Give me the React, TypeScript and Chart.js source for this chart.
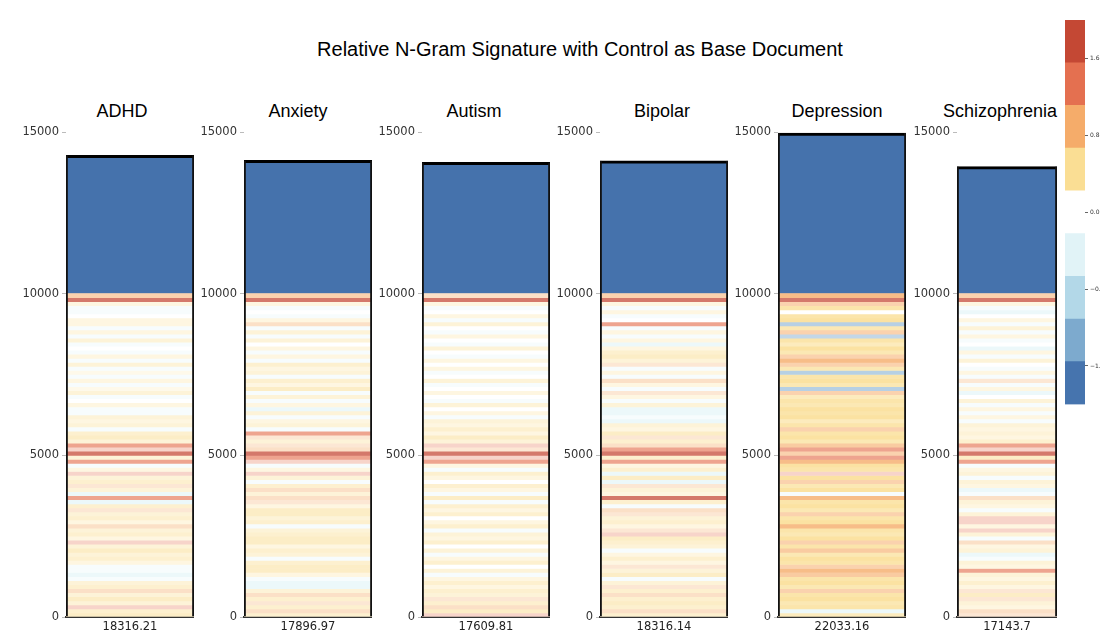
import React, { useEffect, useRef } from 'react';
import { Chart, registerables } from 'chart.js';

Chart.register(...registerables);

// Groups compared against the control corpus
const groups = ['ADHD', 'Anxiety', 'Autism', 'Bipolar', 'Depression', 'Schizophrenia'];
// Distance scores printed under each column
const scores = ['18316.21', '17896.97', '17609.81', '18316.14', '22033.16', '17143.7'];
// Top of the shared (blue) block per group
const sharedTops = [14280, 14120, 14060, 14110, 14970, 13930];
const sharedStart = 10000;
const bandSpan = 125;
const yTicks = [0, 5000, 10000, 15000];

// Relative signature per n-gram band, listed from the top (10000) down to 0
const adhdSig = [
  0.9, 1.9, 0.3, -0.3, -0.3, 0, 0.3, 0.3, -0.3, 0.3,
  -0.3, 0.35, -0.3, 0, -0.3, 0.3, -0.3, 0.35, -0.3, 0.25,
  -0.3, 0.3, -0.3, 0.25, 0.35, -0.3, 0, 0.3, -0.3, -0.3,
  0.35, 0.3, 0.35, -0.3, 0.4, 0.45, 0.35, 1.4, 1.2, 1.9,
  0.35, 1.4, -0.3, 0.3, 1.2, 0.35, 0.4, 0.75, 0.35, -0.5,
  1.4, -0.5, 0.4, 0.75, 0.35, 0.4, 0.3, 0.8, 0.35, 0.4,
  0.3, 1.2, 0.35, 0.45, 0.35, 0.4, 0.3, -0.3, -0.3, -0.5,
  -0.3, 0.35, 0.4, 0.8, 0.35, 0.45, 0.35, 1.2, 0.4, 0.45,
];
const anxietySig = [
  0.9, 1.9, 0.3, -0.3, 0, -0.3, 0.3, 0.8, -0.3, 0.35,
  -0.3, 0.35, 0, 0.3, -0.3, 0.3, -0.3, 0.4, 0.3, 0.35,
  -0.3, 0.4, 0.3, 0.45, -0.3, 0.35, -0.3, 0.3, -0.5, 0.35,
  -0.3, 0.3, 0.35, -0.3, 1.4, 0.75, 0.35, 0.75, 0.8, 1.9,
  1.4, 1.2, -0.3, 0.3, 1.2, 0.35, -0.3, 0.4, 0.8, 0.35,
  0.8, 0.75, 0.3, 0.45, 0.45, 0.35, 0.4, -0.3, 0.35, 0.4,
  0.45, 0.45, 0.3, 0.4, 0.35, -0.3, 0.4, 0.45, 0.45, 0.3,
  -0.3, -0.5, -0.5, 0.35, 0.8, 0.4, 0.75, 0.4, 0.8, 0.4,
];
const autismSig = [
  0.8, 1.9, 0.3, -0.3, 0, 0.3, -0.3, 0.35, 0, -0.3,
  0.3, 0, -0.3, 0.35, 0, -0.3, 0.3, 0, 0.3, -0.3,
  0, 0.35, -0.3, 0, 0.3, 0, -0.3, 0.35, 0, 0.3,
  -0.3, 0.35, 0.3, 0.4, 0.3, 0.45, 0.35, 1.2, 0.75, 1.9,
  1.2, 1.4, 0.3, -0.3, 0.4, 0.3, 0, 0.4, 0.3, -0.3,
  0.45, -0.3, 0.4, 0.3, 0.4, 0, 0.3, 0.4, -0.3, 0.35,
  0.3, 0.4, 0, 0.35, -0.3, 0.3, 0.4, 0, 0.35, -0.3,
  0.3, 0.4, 0.3, 0.4, 0.35, 0.75, 0.4, 0.8, 0.45, 1.2,
];
const bipolarSig = [
  0.9, 1.9, 0.3, -0.3, 0.3, -0.3, 0, 1.4, -0.3, 0.3,
  -0.3, 0.3, -0.5, 0.3, 0.4, 0.45, 0.35, 0.75, -0.3, 0.3,
  -0.3, 0.8, 0.3, -0.3, 0.75, 0.3, -0.3, 0.35, -0.5, -0.5,
  -0.3, -0.5, 0.35, 0.3, 0.45, 0.75, 0.4, 0.8, 1.4, 1.9,
  0.4, 1.4, 0.3, 0.4, -0.5, 0.45, -0.5, 0.75, 0.35, 0.3,
  1.9, 0.4, -0.3, 0.8, 0.75, 0.35, 0.4, 0.3, 0.75, 1.2,
  0.45, 0.4, 0.35, -0.3, 0.3, 0.4, 0.3, 0.75, 0.35, 0.45,
  -0.3, 0.35, 0.75, 0.4, 0.8, 0.4, 0.45, 0.4, 0.8, 0.4,
];
const depressionSig = [
  1.05, 1.9, 0.9, 0.6, 0.2, 0.6, 0.65, -1.35, 0.55, 0.9,
  -1.3, 0.6, 0.5, 0.65, 0.55, 0.9, 1.05, 0.9, 0.55, -1.35,
  0.6, 0.65, 0.55, -1.35, 0.9, 0.5, 0.6, 0.55, 0.65, 0.6,
  0.65, 0.5, 0.6, 0.9, 0.6, 0.65, 0.55, 0.95, 1.4, 0.9,
  1.4, 1.05, 0.65, 0.6, 1.2, 0.65, 0.9, 0.55, 0.65, -0.3,
  1.05, 0.6, 0.65, 0.55, 0.9, 0.6, 0.65, 1.05, 0.6, 0.55,
  0.65, 0.9, 0.6, 0.95, 0.55, 0.65, 0.6, 0.9, 1.05, 0.95,
  0.6, 0.65, 0.55, 0.9, 0.6, 0.65, 0.55, 0.6, -0.5, 0.5,
];
const schizophreniaSig = [
  0.9, 1.9, 0.3, -0.3, -0.5, 0, 0.3, -0.3, 0.35, -0.3,
  0.3, -0.3, 0, -0.5, 0.3, -0.3, 0.35, 0, -0.3, 0.3,
  -0.3, 0.75, -0.3, 0.3, -0.5, 0, 0.35, -0.3, 0.3, -0.3,
  0.3, -0.3, 0.35, 0.3, 0.35, 0.3, 0.4, 1.4, 1.2, 1.9,
  0.45, 1.4, -0.3, 0.3, 0.35, -0.3, 0.35, 0.3, -0.5, -0.3,
  0.8, 0.35, 0.3, -0.3, 0.35, 1.2, 1.2, 0.3, 1.2, 0.35,
  -0.3, 0.8, 0.3, 0.35, -0.5, -0.3, 0.35, 0.3, 1.4, 0.35,
  0.3, 0.4, 0.3, 0.75, 0.45, 0.75, 0.35, 0.3, 0.8, 0.75,
];
const signatures = [adhdSig, anxietySig, autismSig, bipolarSig, depressionSig, schizophreniaSig];

// Discrete diverging scale from -2 to 2 (9 bins), low to high
const scaleMin = -2;
const scaleMax = 2;
const binColors = ['#4674ae', '#7daace', '#b3d8e8', '#e1f3f7', '#ffffff', '#fade94', '#f5ac6a', '#e47050', '#c44834'];
const scaleTicks = [-1.6, -0.8, 0, 0.8, 1.6];
const sharedColor = '#4572ac';

// Column placement on the page
const colLeft = [66, 244, 422, 600, 778, 957];
const colRight = [194, 372, 550, 728, 906, 1057];
const titleCenter = [122, 298, 474, 662, 837, 1000];
const AXIS_W = 62;
const PANEL_TOP = 122;
const PANEL_H = 513;

function hexToRgb(h: string) {
  const n = parseInt(h.slice(1), 16);
  return [(n >> 16) & 255, (n >> 8) & 255, n & 255];
}

// Bin colour, shaded by how far the value sits inside its bin
function bandColor(v: number) {
  const step = (scaleMax - scaleMin) / binColors.length;
  let idx = Math.floor((v - scaleMin) / step);
  idx = Math.max(0, Math.min(binColors.length - 1, idx));
  const center = (binColors.length - 1) / 2;
  let frac = 0;
  if (idx > center) frac = (v - (scaleMin + idx * step)) / step;
  else if (idx < center) frac = ((scaleMin + (idx + 1) * step) - v) / step;
  frac = Math.max(0, Math.min(1, frac));
  const a = 0.15 + 0.75 * frac;
  const [r, g, b] = hexToRgb(binColors[idx]);
  const mix = (c: number) => Math.round(c * a + 255 * (1 - a));
  return `rgb(${mix(r)},${mix(g)},${mix(b)})`;
}

const tickFont = { family: '"DejaVu Sans", sans-serif', size: 11.5 };

function Panel({ index }: { index: number }) {
  const ref = useRef<HTMLCanvasElement | null>(null);
  const width = colRight[index] - colLeft[index] + AXIS_W;

  useEffect(() => {
    if (!ref.current) return;
    const sig = signatures[index];
    const top = sharedTops[index];
    const datasets: any[] = sig.map((v, i) => ({
      data: [[sharedStart - (i + 1) * bandSpan, sharedStart - i * bandSpan]],
      backgroundColor: bandColor(v),
      borderWidth: 0,
      grouped: false,
    }));
    datasets.push({
      data: [[sharedStart, top]],
      backgroundColor: sharedColor,
      borderColor: '#000',
      borderWidth: { left: 0, right: 0, top: 3, bottom: 0 },
      borderSkipped: false,
      grouped: false,
    });
    // outline of the whole column
    datasets.push({
      data: [[0, top]],
      backgroundColor: 'rgba(0,0,0,0)',
      borderColor: '#111',
      borderWidth: { left: 1.5, right: 1.5, top: 0, bottom: 0 },
      borderSkipped: false,
      grouped: false,
      order: -1,
    });

    const chart = new Chart(ref.current, {
      type: 'bar',
      data: { labels: [scores[index]], datasets },
      options: {
        animation: false,
        responsive: false,
        events: [],
        layout: { padding: { top: 10, left: 0, right: 0, bottom: 0 } },
        datasets: { bar: { barPercentage: 1, categoryPercentage: 1 } },
        plugins: { legend: { display: false }, tooltip: { enabled: false } },
        scales: {
          x: {
            grid: { display: false, drawTicks: false },
            border: { display: true, color: '#333', width: 2 },
            ticks: { color: '#222', font: tickFont, padding: 3 },
            afterFit: (s: any) => { s.height = 18; },
          },
          y: {
            min: 0,
            max: 15000,
            afterBuildTicks: (s: any) => { s.ticks = yTicks.map((v) => ({ value: v })); },
            ticks: { color: '#333', font: tickFont, padding: 3, callback: (v: any) => String(v) },
            grid: { drawOnChartArea: false, tickLength: 4, color: '#bbb' },
            border: { display: false },
            afterFit: (s: any) => { s.width = AXIS_W; },
          },
        },
      } as any,
    });
    return () => chart.destroy();
  }, [index]);

  return (
    <canvas
      ref={ref}
      width={width}
      height={PANEL_H}
      style={{ position: 'absolute', left: colLeft[index] - AXIS_W, top: PANEL_TOP, width, height: PANEL_H }}
    />
  );
}

function ColorScale() {
  const ref = useRef<HTMLCanvasElement | null>(null);
  useEffect(() => {
    if (!ref.current) return;
    const step = (scaleMax - scaleMin) / binColors.length;
    const datasets = binColors.map((c, i) => ({
      data: [[scaleMin + i * step, scaleMin + (i + 1) * step]],
      backgroundColor: c,
      borderWidth: 0,
      grouped: false,
    }));
    const chart = new Chart(ref.current, {
      type: 'bar',
      data: { labels: [''], datasets: datasets as any },
      options: {
        animation: false,
        responsive: false,
        events: [],
        layout: { padding: { top: 20, bottom: 5, left: 0, right: 0 } },
        datasets: { bar: { barPercentage: 1, categoryPercentage: 1 } },
        plugins: { legend: { display: false }, tooltip: { enabled: false } },
        scales: {
          x: { display: false },
          y: {
            position: 'right',
            min: scaleMin,
            max: scaleMax,
            afterBuildTicks: (s: any) => { s.ticks = scaleTicks.map((v) => ({ value: v })); },
            ticks: {
              color: '#333',
              padding: 2,
              font: { family: '"DejaVu Sans", sans-serif', size: 6 },
              callback: (v: any) => (v < 0 ? '\u2212' + Math.abs(v).toFixed(1) : Number(v).toFixed(1)),
            },
            grid: { drawOnChartArea: false, tickLength: 3, color: '#666' },
            border: { display: false },
            afterFit: (s: any) => { s.width = 40; },
          },
        },
      } as any,
    });
    return () => chart.destroy();
  }, []);
  return (
    <canvas
      ref={ref}
      width={60}
      height={410}
      style={{ position: 'absolute', left: 1065, top: 0, width: 60, height: 410 }}
    />
  );
}

export default function App() {
  return (
    <div
      style={{
        position: 'fixed',
        left: 0,
        top: 0,
        width: 1100,
        height: 635,
        overflow: 'hidden',
        background: '#fff',
        fontFamily: '"Liberation Sans", Arial, sans-serif',
        color: '#000',
      }}
    >
      <div style={{ position: 'absolute', left: 0, width: 1160, top: 37, textAlign: 'center', fontSize: 20, lineHeight: '24px' }}>
        Relative N-Gram Signature with Control as Base Document
      </div>
      {groups.map((g, i) => (
        <div
          key={g}
          style={{
            position: 'absolute',
            left: titleCenter[i] - 80,
            width: 160,
            top: 100,
            textAlign: 'center',
            fontSize: 18,
            lineHeight: '22px',
          }}
        >
          {g}
        </div>
      ))}
      {groups.map((g, i) => (
        <Panel key={g} index={i} />
      ))}
      <ColorScale />
    </div>
  );
}
